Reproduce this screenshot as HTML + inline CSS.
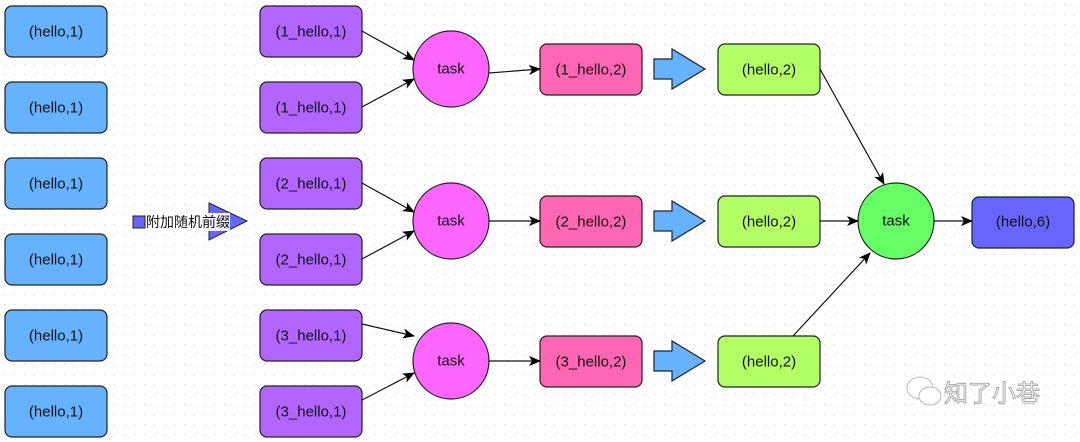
<!DOCTYPE html>
<html><head><meta charset="utf-8"><style>
html,body{margin:0;padding:0;background:#fff;}
svg{display:block;}
text{font-family:"Liberation Sans","Noto Sans CJK SC",sans-serif;font-size:15px;fill:#111;text-anchor:middle;dominant-baseline:central;}
</style></head><body>
<svg width="1080" height="442" viewBox="0 0 1080 442" xmlns="http://www.w3.org/2000/svg">
<defs>
<pattern id="dots" width="10" height="10" patternUnits="userSpaceOnUse" x="4" y="4">
<rect x="0" y="0" width="1.2" height="1.2" fill="#d8d8d8"/>
</pattern>
<marker id="ah" markerWidth="12" markerHeight="10" refX="11" refY="5" orient="auto" markerUnits="userSpaceOnUse">
<path d="M0,0 L12,5 L0,10 L3,5 Z" fill="#000"/>
</marker>
</defs>
<rect width="1080" height="442" fill="url(#dots)"/>
<g stroke="#222" stroke-width="1.2">
<g fill="#66b2ff">
<rect x="5" y="6" width="102" height="51" rx="7"/>
<rect x="5" y="82" width="102" height="51" rx="7"/>
<rect x="5" y="158" width="102" height="51" rx="7"/>
<rect x="5" y="234" width="102" height="51" rx="7"/>
<rect x="5" y="310" width="102" height="51" rx="7"/>
<rect x="5" y="386" width="102" height="51" rx="7"/>
</g>
<g fill="#b266ff">
<rect x="260" y="6" width="102" height="51" rx="7"/>
<rect x="260" y="82" width="102" height="51" rx="7"/>
<rect x="260" y="158" width="102" height="51" rx="7"/>
<rect x="260" y="234" width="102" height="51" rx="7"/>
<rect x="260" y="310" width="102" height="51" rx="7"/>
<rect x="260" y="386" width="102" height="51" rx="7"/>
</g>
<g fill="#ff66ff">
<circle cx="451" cy="69" r="38"/>
<circle cx="451" cy="221" r="38"/>
<circle cx="451" cy="361" r="38"/>
</g>
<g fill="#ff66b3">
<rect x="540" y="44" width="102" height="51" rx="7"/>
<rect x="540" y="196" width="102" height="51" rx="7"/>
<rect x="540" y="336" width="102" height="51" rx="7"/>
</g>
<g fill="#66b2ff">
<path d="M654,59 H672 V49 L705,69 L672,89 V79 H654 Z"/>
<path d="M654,211 H672 V201 L705,221 L672,241 V231 H654 Z"/>
<path d="M654,351 H672 V341 L705,361 L672,381 V371 H654 Z"/>
</g>
<g fill="#b3ff66">
<rect x="718" y="44" width="102" height="51" rx="7"/>
<rect x="718" y="196" width="102" height="51" rx="7"/>
<rect x="718" y="336" width="102" height="51" rx="7"/>
</g>
<circle cx="896" cy="221" r="38" fill="#66ff66"/>
<rect x="972" y="197" width="102" height="51" rx="7" fill="#6666ff"/>
<rect x="133" y="216" width="12" height="12" fill="#6666ff" stroke-width="1"/>
<path d="M209,203 L247,221 L209,240 Z" fill="#6666ff" stroke-width="1"/>
</g>
<rect x="146" y="213" width="84" height="18" fill="#fff" opacity="0.9"/>
<text x="188" y="222" style="font-size:14px">附加随机前缀</text>
<g stroke="#111" stroke-width="1.2" fill="none" marker-end="url(#ah)">
<line x1="362" y1="31" x2="414" y2="60"/>
<line x1="362" y1="107" x2="414" y2="79"/>
<line x1="362" y1="183" x2="414" y2="212"/>
<line x1="362" y1="259" x2="414" y2="231"/>
<line x1="362" y1="324" x2="414" y2="336"/>
<line x1="362" y1="400" x2="414" y2="373"/>
<line x1="489" y1="73" x2="540" y2="69"/>
<line x1="489" y1="221" x2="540" y2="221"/>
<line x1="489" y1="361" x2="540" y2="361"/>
<line x1="820" y1="69" x2="884" y2="184"/>
<line x1="820" y1="221" x2="858" y2="221"/>
<line x1="793" y1="336" x2="870" y2="253"/>
<line x1="934" y1="221" x2="972" y2="221"/>
</g>
<g>
<text x="56" y="32">(hello,1)</text>
<text x="56" y="108">(hello,1)</text>
<text x="56" y="184">(hello,1)</text>
<text x="56" y="260">(hello,1)</text>
<text x="56" y="336">(hello,1)</text>
<text x="56" y="412">(hello,1)</text>
<text x="311" y="32">(1_hello,1)</text>
<text x="311" y="108">(1_hello,1)</text>
<text x="311" y="184">(2_hello,1)</text>
<text x="311" y="260">(2_hello,1)</text>
<text x="311" y="336">(3_hello,1)</text>
<text x="311" y="412">(3_hello,1)</text>
<text x="451" y="69">task</text>
<text x="451" y="221">task</text>
<text x="451" y="361">task</text>
<text x="591" y="70">(1_hello,2)</text>
<text x="591" y="222">(2_hello,2)</text>
<text x="591" y="362">(3_hello,2)</text>
<text x="769" y="70">(hello,2)</text>
<text x="769" y="222">(hello,2)</text>
<text x="769" y="362">(hello,2)</text>
<text x="896" y="221">task</text>
<text x="1023" y="222">(hello,6)</text>
</g>
<g stroke="#bbb" stroke-width="1" fill="#fff">
<ellipse cx="920" cy="388" rx="13" ry="11"/>
<ellipse cx="930" cy="396" rx="11" ry="9"/>
</g>
<text x="992" y="394" style="font-size:24px;fill:#fff;stroke:#999;stroke-width:0.8">知了小巷</text>
</svg>
</body></html>
